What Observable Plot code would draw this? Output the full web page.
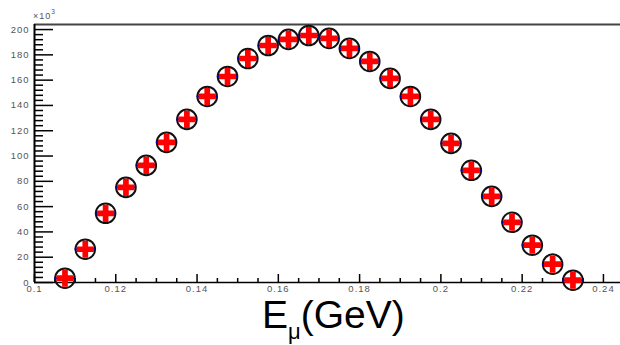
<!DOCTYPE html>
<html>
<head>
<meta charset="utf-8">
<script src="https://cdn.jsdelivr.net/npm/d3@7"></script>
<script src="https://cdn.jsdelivr.net/npm/@observablehq/plot@0.6"></script>
<style>
  html, body { margin: 0; padding: 0; background: #fff; }
  #chart svg { display: block; font-family: "Liberation Sans", Arial, sans-serif; }
  #chart svg g[aria-label="y-axis tick label"] text,
  #chart svg g[aria-label="x-axis tick label"] text { letter-spacing: 1px; }
</style>
</head>
<body>
<div id="chart"></div>
<script>
// Bin centres (GeV) and counts (x10^3)
const energy = [0.1075, 0.1125, 0.1175, 0.1225, 0.1275, 0.1325, 0.1375, 0.1425, 0.1475, 0.1525,
                0.1575, 0.1625, 0.1675, 0.1725, 0.1775, 0.1825, 0.1875, 0.1925, 0.1975, 0.2025,
                0.2075, 0.2125, 0.2175, 0.2225, 0.2275, 0.2325];
const counts = [3.4, 26.3, 54.7, 75.2, 92.6, 110.8, 129, 147.1, 162.9, 177.1,
                187.4, 192.2, 195.3, 193, 185.1, 174.8, 161.4, 147.1, 129, 110,
                88.7, 68.1, 47.6, 29.5, 14.5, 1.8];
const binWidth = 0.005;

const xMajor = [0.1, 0.12, 0.14, 0.16, 0.18, 0.2, 0.22, 0.24];
const xMinor = [0.105, 0.11, 0.115, 0.125, 0.13, 0.135, 0.145, 0.15, 0.155, 0.165, 0.17, 0.175,
                0.185, 0.19, 0.195, 0.205, 0.21, 0.215, 0.225, 0.23, 0.235];
const yMajor = [0, 20, 40, 60, 80, 100, 120, 140, 160, 180, 200];
const yMinor = [4, 8, 12, 16, 24, 28, 32, 36, 44, 48, 52, 56, 64, 68, 72, 76, 84, 88, 92, 96,
                104, 108, 112, 116, 124, 128, 132, 136, 144, 148, 152, 156, 164, 168, 172, 176,
                184, 188, 192, 196];
const xDomain = [0.1, 0.2442];
const yDomain = [0, 204];

const points = energy.map((x, i) => ({x, y: counts[i]}));

const plot = Plot.plot({
  width: 620,
  height: 345,
  marginLeft: 34,
  marginRight: 0,
  marginTop: 24,
  marginBottom: 63,
  style: {fontFamily: "Liberation Sans, Arial, sans-serif", background: "#fff"},
  x: {domain: xDomain, label: null},
  y: {domain: yDomain, label: null},
  marks: [
    Plot.ruleY([yDomain[1]], {stroke: "#444", strokeWidth: 2.2}),
    Plot.ruleY([yDomain[0]], {stroke: "#000", strokeWidth: 1.5}),
    Plot.ruleX([xDomain[0]], {stroke: "#000", strokeWidth: 2}),
    Plot.axisY(yMinor, {anchor: "left", tickSize: -9, fill: "none", stroke: "#000", strokeWidth: 1.5, label: null}),
    Plot.axisY(yMajor, {anchor: "left", tickSize: -19, fill: "none", stroke: "#000", strokeWidth: 1.5, label: null}),
    Plot.axisY(yMajor, {anchor: "left", tickSize: 0, tickPadding: 5, fontSize: 9.5, fill: "#555",
                        tickFormat: d => String(d), label: null}),
    Plot.axisX(xMinor, {anchor: "bottom", tickSize: -4, fill: "none", stroke: "#000", strokeWidth: 1.5, label: null}),
    Plot.axisX(xMajor, {anchor: "bottom", tickSize: -8, fill: "none", stroke: "#000", strokeWidth: 1.5, label: null}),
    Plot.axisX(xMajor, {anchor: "bottom", tickSize: 0, tickPadding: 3, fontSize: 9.5, fill: "#555",
                        tickFormat: d => String(d), label: null}),
    Plot.dot(points, {x: "x", y: "y", r: 9.8, fill: "none", stroke: "#111", strokeWidth: 2}),
    Plot.ruleY(points, {x1: d => d.x - binWidth / 2, x2: d => d.x + binWidth / 2, y: "y",
                        stroke: "#0000cc", strokeWidth: 2}),
    Plot.dot(points, {x: "x", y: "y", symbol: "cross", r: 7.2, fill: "#ff0000", stroke: "none"})
  ]
});

const svg = d3.select(plot);
// exponent marker
const ex = svg.append("text")
  .attr("x", 33).attr("y", 19)
  .attr("text-anchor", "start")
  .attr("font-size", 9).attr("fill", "#555")
  .style("letter-spacing", "1px");
ex.append("tspan").text("×10");
ex.append("tspan").attr("dy", -5).attr("font-size", 6.5).text("3");

// x-axis title
const t = svg.append("text")
  .attr("x", 262).attr("y", 328)
  .attr("text-anchor", "start")
  .attr("font-size", 39).attr("fill", "#000")
  .attr("font-family", "Liberation Sans, Arial, sans-serif");
t.append("tspan").text("E");
t.append("tspan").attr("dy", 11).attr("font-size", 22).text("μ");
t.append("tspan").attr("dy", -11).attr("font-size", 39).text("(GeV)");

document.getElementById("chart").appendChild(plot);
</script>
</body>
</html>
